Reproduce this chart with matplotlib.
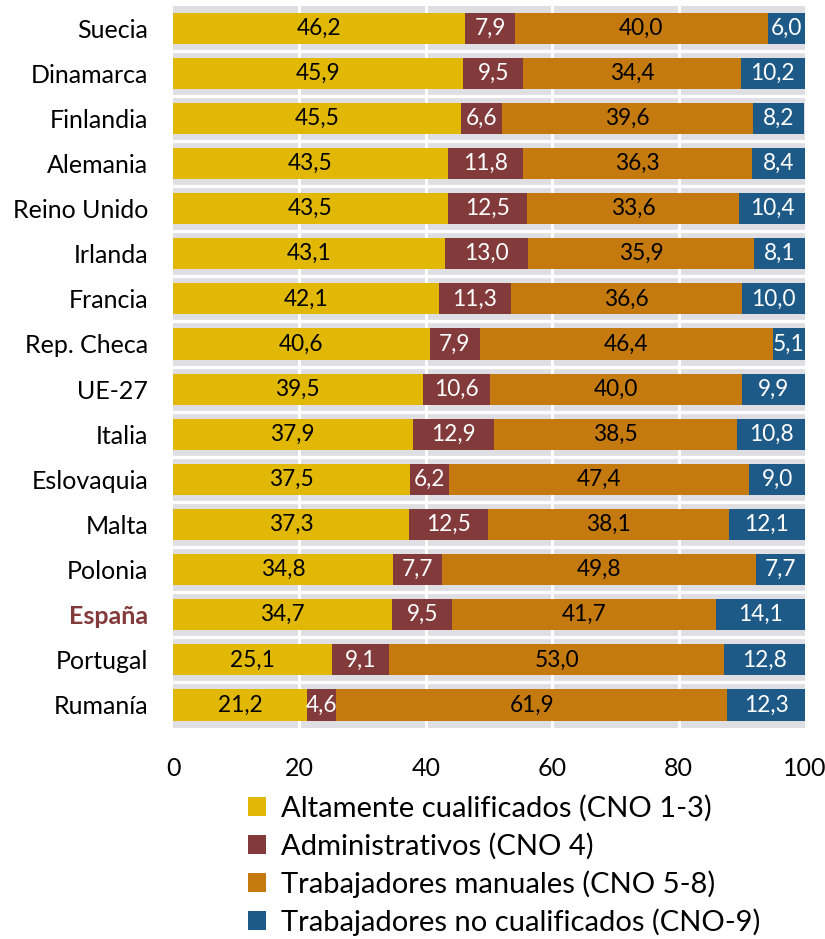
import matplotlib
matplotlib.use("Agg")
import matplotlib.pyplot as plt
from matplotlib.patches import Patch
import numpy as np

countries = ["Suecia", "Dinamarca", "Finlandia", "Alemania", "Reino Unido", "Irlanda",
             "Francia", "Rep. Checa", "UE-27", "Italia", "Eslovaquia", "Malta",
             "Polonia", "España", "Portugal", "Rumanía"]
altamente = [46.2, 45.9, 45.5, 43.5, 43.5, 43.1, 42.1, 40.6, 39.5, 37.9, 37.5, 37.3, 34.8, 34.7, 25.1, 21.2]
administrativos = [7.9, 9.5, 6.6, 11.8, 12.5, 13.0, 11.3, 7.9, 10.6, 12.9, 6.2, 12.5, 7.7, 9.5, 9.1, 4.6]
manuales = [40.0, 34.4, 39.6, 36.3, 33.6, 35.9, 36.6, 46.4, 40.0, 38.5, 47.4, 38.1, 49.8, 41.7, 53.0, 61.9]
no_cualificados = [6.0, 10.2, 8.2, 8.4, 10.4, 8.1, 10.0, 5.1, 9.9, 10.8, 9.0, 12.1, 7.7, 14.1, 12.8, 12.3]
series_names = ["Altamente cualificados (CNO 1-3)", "Administrativos (CNO 4)",
                "Trabajadores manuales (CNO 5-8)", "Trabajadores no cualificados (CNO-9)"]
xticks = [0, 20, 40, 60, 80, 100]

colors = ["#E0B805", "#833A3B", "#C57A10", "#1E5A88"]
text_colors = ["black", "white", "black", "white"]

plt.rcParams['font.family'] = ['Lato', 'DejaVu Sans']

fig = plt.figure(figsize=(8.25, 9.39), dpi=100)
ax = fig.add_axes([0.2097, 0.2252, 0.7661, 0.7689])
ax.set_facecolor("#DEDEE3")

y = np.arange(len(countries))
series = [altamente, administrativos, manuales, no_cualificados]
left = np.zeros(len(countries))
for vals, c, tc in zip(series, colors, text_colors):
    vals = np.array(vals)
    ax.barh(y, vals, left=left, height=0.69, color=c, zorder=3)
    for yi, l, v in zip(y, left, vals):
        ax.text(l + v / 2, yi, f"{v:.1f}".replace(".", ","), ha="center", va="center",
                color=tc, fontsize=16.3, zorder=4)
    left = left + vals

for xv in xticks[1:-1]:
    ax.axvline(xv, color="white", lw=2.2, zorder=1)
for i in range(len(countries) - 1):
    ax.axhline(i + 0.5, color="white", lw=2.4, zorder=1)

ax.set_xlim(0, 100)
ax.set_ylim(len(countries) - 0.5, -0.5)
ax.set_xticks(xticks)
ax.set_xticklabels([str(t) for t in xticks], fontsize=18)
ax.set_yticks(y)
ax.set_yticklabels(countries, fontsize=18)
ax.tick_params(axis="x", length=0, pad=21)
ax.tick_params(axis="y", length=0, pad=18)
for s in ax.spines.values():
    s.set_visible(False)
for lab in ax.get_yticklabels():
    if lab.get_text() == "España":
        lab.set_color("#833A3B")
        lab.set_fontweight("bold")

handles = [Patch(facecolor=c) for c in colors]
fig.legend(handles, series_names, loc="upper left", bbox_to_anchor=(0.300, 0.153),
           frameon=False, fontsize=21, handlelength=0.62, handleheight=0.62,
           handletextpad=0.52, labelspacing=0.36, borderpad=0, borderaxespad=0)

fig.savefig("out.png", dpi=100)
